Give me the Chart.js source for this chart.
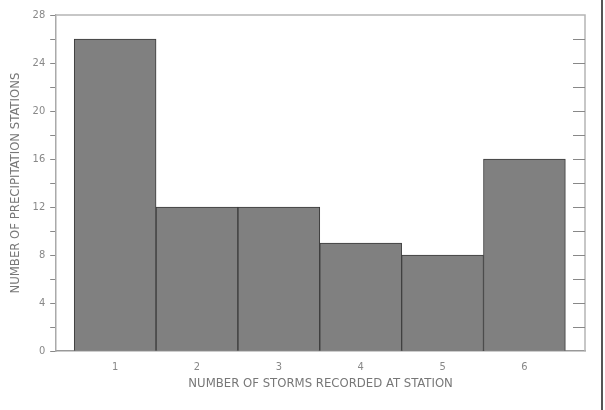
<!DOCTYPE html>
<html>
<head>
<meta charset="utf-8">
<script src="https://cdn.jsdelivr.net/npm/chart.js@4/dist/chart.umd.min.js"></script>
<style>
  html, body { margin: 0; padding: 0; background: #fff; }
  #wrap { position: relative; width: 605px; height: 410px; }
  #edge { position: absolute; left: 601px; top: 0; width: 2px; height: 410px; background: #555; }
</style>
</head>
<body>
<div id="wrap">
  <canvas id="chart" width="605" height="410"></canvas>
  <div id="edge"></div>
</div>
<script>
// number of storms recorded at station
var storms = [1, 2, 3, 4, 5, 6];
// number of precipitation stations
var stations = [26, 12, 12, 9, 8, 16];
var yTicks = [0, 4, 8, 12, 16, 20, 24, 28];

var FONT = '"Liberation Sans Narrow", "DejaVu Sans Condensed", sans-serif';

// frame and inward ticks on the right side
var framePlugin = {
    id: 'frame',
    afterDraw: function(chart) {
	var ctx = chart.ctx, a = chart.chartArea, y = chart.scales.y;
	ctx.save();
	ctx.strokeStyle = '#b5b5b5';
	ctx.lineWidth = 1.5;
	ctx.beginPath();
	ctx.moveTo(a.left, a.top);
	ctx.lineTo(a.right, a.top);
	ctx.lineTo(a.right, a.bottom);
	ctx.stroke();
	ctx.strokeStyle = '#888';
	ctx.lineWidth = 1;
	for (var v = 2; v < 28; v += 2) {
	    var py = Math.round(y.getPixelForValue(v)) + 0.5;
	    ctx.beginPath();
	    ctx.moveTo(a.right - 12, py);
	    ctx.lineTo(a.right, py);
	    ctx.stroke();
	}
	ctx.restore();
    }
};

new Chart(document.getElementById('chart').getContext('2d'), {
    type: 'bar',
    data: {
	datasets: [{
	    data: storms.map(function(s, i) { return { x: s, y: stations[i] }; }),
	    backgroundColor: '#808080',
	    borderColor: '#3a3a3a',
	    borderWidth: 1,
	    barPercentage: 1,
	    categoryPercentage: 1
	}]
    },
    options: {
	responsive: false,
	animation: false,
	layout: { padding: { top: 15, right: 20, bottom: 19, left: 4 } },
	plugins: { legend: { display: false }, tooltip: { enabled: false } },
	scales: {
	    x: {
		type: 'linear',
		offset: false,
		min: 0.28,
		max: 6.74,
		afterBuildTicks: function(axis) {
		    axis.ticks = storms.map(function(v) { return { value: v }; });
		},
		grid: { display: false },
		border: { color: '#999', width: 1.5 },
		ticks: { color: '#888', font: { family: FONT, size: 11 }, padding: 1 },
		title: {
		    display: true,
		    text: 'NUMBER OF STORMS RECORDED AT STATION',
		    color: '#777',
		    font: { family: FONT, size: 13 },
		    padding: { top: 1, bottom: 0 }
		}
	    },
	    y: {
		min: 0,
		max: 28,
		ticks: {
		    stepSize: 2,
		    color: '#888',
		    font: { family: FONT, size: 11 },
		    padding: 5,
		    callback: function(v) { return yTicks.indexOf(v) >= 0 ? v : ''; }
		},
		grid: { drawOnChartArea: false, tickLength: 6, color: '#888' },
		border: { color: '#aaa', width: 1.5 },
		title: {
		    display: true,
		    text: 'NUMBER OF PRECIPITATION STATIONS',
		    color: '#777',
		    font: { family: FONT, size: 13 },
		    padding: { bottom: 4 }
		}
	    }
	}
    },
    plugins: [framePlugin]
});
</script>
</body>
</html>
